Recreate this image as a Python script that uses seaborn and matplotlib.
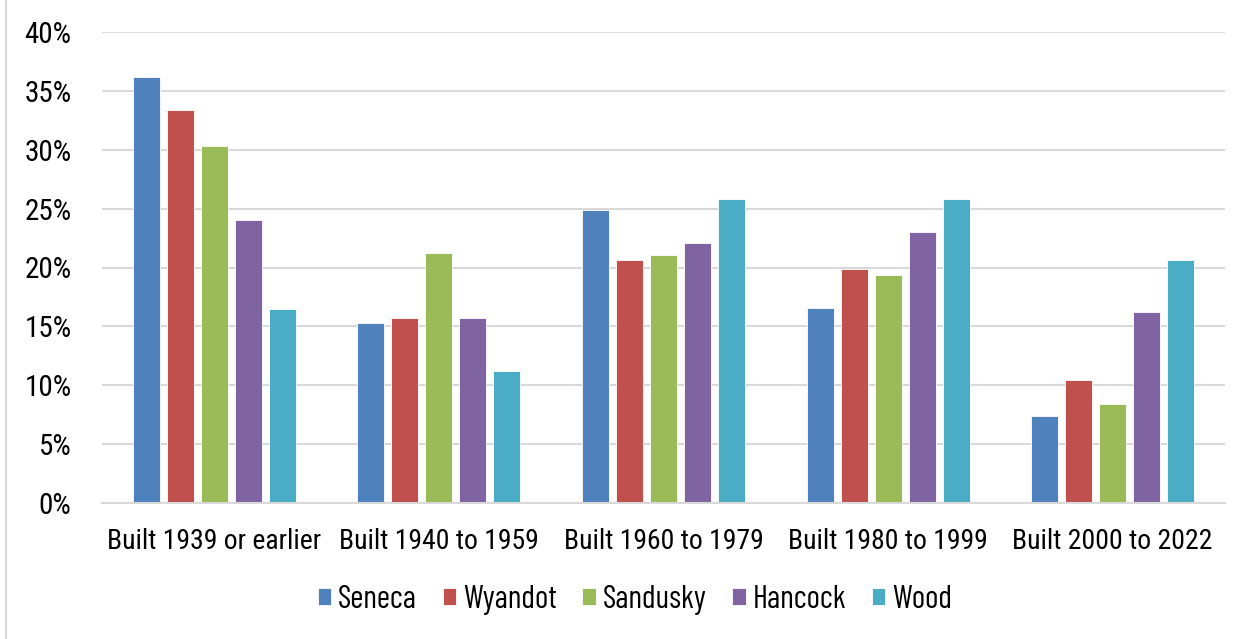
import pandas as pd
import matplotlib.pyplot as plt
import matplotlib
import seaborn as sns
from matplotlib.lines import Line2D
from matplotlib.ticker import FuncFormatter

categories = ['Built 1939 or earlier', 'Built 1940 to 1959', 'Built 1960 to 1979',
              'Built 1980 to 1999', 'Built 2000 to 2022']
counties = ['Seneca', 'Wyandot', 'Sandusky', 'Hancock', 'Wood']
seneca = [36.2, 15.3, 24.9, 16.55, 7.35]
wyandot = [33.4, 15.75, 20.6, 19.85, 10.45]
sandusky = [30.3, 21.2, 21.05, 19.4, 8.4]
hancock = [24.0, 15.7, 22.1, 23.0, 16.2]
wood = [16.45, 11.25, 25.8, 25.8, 20.6]
colors = ['#4F81BD', '#C0504D', '#9BBB59', '#8064A2', '#4BACC6']

rows = []
for name, vals in zip(counties, [seneca, wyandot, sandusky, hancock, wood]):
    for cat, v in zip(categories, vals):
        rows.append({'category': cat, 'county': name, 'value': v})
df = pd.DataFrame(rows)

sns.set_style('white')
matplotlib.rcParams['font.family'] = ['Roboto Condensed', 'Archivo Narrow', 'DejaVu Sans']
matplotlib.rcParams['text.color'] = 'black'

fig = plt.figure(figsize=(12.51, 6.39), dpi=100)
ax = fig.add_axes([102 / 1251, 1 - 503 / 639, 1123 / 1251, 471 / 639])

sns.barplot(data=df, x='category', y='value', hue='county', order=categories,
            hue_order=counties, palette=colors, width=0.757, gap=0.206,
            edgecolor='white', linewidth=0.6, saturation=1, ax=ax, legend=True)

ax.set_ylim(0, 40)
ax.set_yticks(range(0, 41, 5))
ax.yaxis.set_major_formatter(FuncFormatter(lambda v, p: f'{int(v)}%'))
ax.set_xlim(-0.5, 4.5)
ax.grid(axis='y', color='#d9d9d9', linewidth=1.5)
ax.set_axisbelow(True)
for s in ['top', 'right', 'left']:
    ax.spines[s].set_visible(False)
ax.spines['bottom'].set_color('#d9d9d9')
ax.spines['bottom'].set_linewidth(1.5)
ax.tick_params(axis='y', length=0, labelsize=21, labelcolor='black', pad=22)
ax.tick_params(axis='x', length=0, labelsize=20, labelcolor='black', pad=18)
ax.set_xlabel('')
ax.set_ylabel('')

handles, labels = ax.get_legend_handles_labels()
ax.legend(handles, labels, loc='center', bbox_to_anchor=(635 / 1251, 1 - 600 / 639),
          bbox_transform=fig.transFigure, ncol=5, frameon=False,
          prop={'family': ['Barlow Condensed', 'Roboto Condensed', 'DejaVu Sans'], 'size': 23},
          handlelength=0.42, handleheight=0.42, handletextpad=0.22, columnspacing=0.8)

fig.add_artist(Line2D([6 / 1251, 6 / 1251], [0, 1], transform=fig.transFigure,
                      color='#d9d9d9', linewidth=1.5))

plt.savefig('out.png', dpi=100)
